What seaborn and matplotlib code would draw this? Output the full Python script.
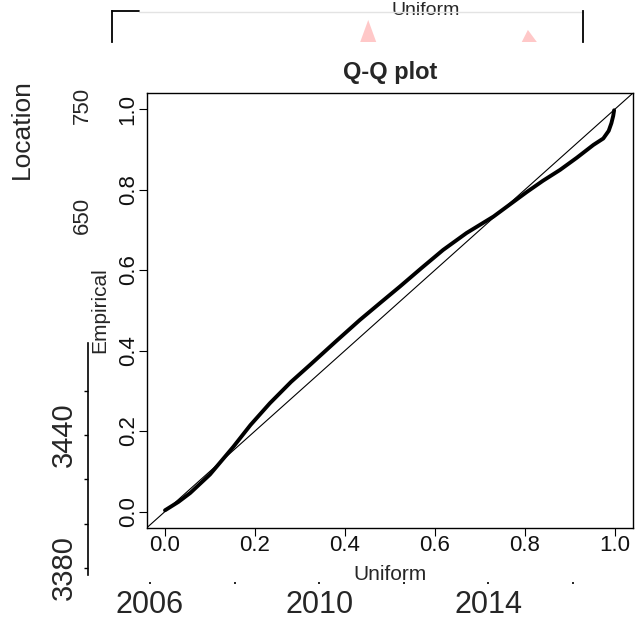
import matplotlib
matplotlib.use("Agg")
import matplotlib.pyplot as plt
import seaborn as sns
import pandas as pd

# ---- data ----
uniform_q = [0.0, 0.03, 0.056, 0.10, 0.152, 0.19, 0.233, 0.28, 0.322, 0.38, 0.433,
             0.48, 0.522, 0.57, 0.618, 0.67, 0.730, 0.77, 0.804, 0.84, 0.878,
             0.915, 0.952, 0.974, 0.986, 0.992, 0.996, 0.998]
empirical_q = [0.003, 0.024, 0.046, 0.092, 0.161, 0.215, 0.269, 0.322, 0.364, 0.423, 0.476,
               0.520, 0.559, 0.605, 0.650, 0.692, 0.733, 0.766, 0.794, 0.822, 0.849,
               0.879, 0.911, 0.927, 0.946, 0.965, 0.983, 0.997]
qq_ticks = [0.0, 0.2, 0.4, 0.6, 0.8, 1.0]
qq_tick_labels = ["0.0", "0.2", "0.4", "0.6", "0.8", "1.0"]

year_major = [2006, 2010, 2014]
year_minor = [2008, 2012, 2016]
count_major = [3380, 3440]
count_minor = [3400, 3420, 3460]
location_ticks = [650, 750]

peak_center = [0.544, 0.883]
peak_height = [0.71, 0.39]
peak_left = [0.527, 0.870]
peak_right = [0.561, 0.902]

sns.set_style("white")
plt.rcParams["font.family"] = ["Liberation Sans", "DejaVu Sans"]

W, H = 635, 623
fig = plt.figure(figsize=(W / 100, H / 100), dpi=100)


def rect(l, t, r, b):
    return [l / W, 1 - b / H, (r - l) / W, (b - t) / H]


# ---- main Q-Q axes ----
ax = fig.add_axes(rect(147, 93, 633, 527.6))
df = pd.DataFrame({"Uniform": uniform_q, "Empirical": empirical_q})
ax.axline((0, 0), slope=1, color="black", lw=0.8)
sns.lineplot(data=df, x="Uniform", y="Empirical", sort=False, estimator=None,
             color="black", lw=2.8, ax=ax, solid_joinstyle="round",
             solid_capstyle="round")
ax.set_xlim(-0.04, 1.04)
ax.set_ylim(-0.04, 1.04)
ax.set_xticks(qq_ticks)
ax.set_xticklabels(qq_tick_labels)
ax.set_yticks(qq_ticks)
ax.set_yticklabels(qq_tick_labels)
for s in ax.spines.values():
    s.set_color("black")
    s.set_linewidth(1.0)
ax.tick_params(bottom=True, left=True, length=5.5, width=0.8, color="black",
               direction="out", labelsize=16, labelcolor="#111111")
ax.tick_params(axis="x", pad=0)
ax.tick_params(axis="y", pad=0.5, labelrotation=90)
for lab in ax.get_yticklabels():
    lab.set_va("center")
ax.set_xlabel("Uniform", fontsize=15)
ax.xaxis.set_label_coords(0.5, (527.6 - 574) / 434.6)
ax.xaxis.label.set_va("center")
ax.set_ylabel("Empirical", fontsize=15)
ax.yaxis.set_label_coords((100 - 147) / 486, 0.5)
ax.yaxis.label.set_va("center")
ax.set_title("Q-Q plot", fontsize=17, fontweight="bold", y=(527.6 - 72) / 434.6,
             pad=0, va="center")

# ---- top fragment ----
axT = fig.add_axes(rect(112, 11, 583, 42))
axT.set_facecolor("none")
axT.set_xlim(0, 1)
axT.set_ylim(0, 1)
for c, h, l, r in zip(peak_center, peak_height, peak_left, peak_right):
    axT.fill([l, c, r], [0, h, 0], color="#ffc8c8", lw=0)
axT.spines["top"].set_visible(False)
axT.spines["bottom"].set_visible(False)
for side in ("left", "right"):
    axT.spines[side].set_color("black")
    axT.spines[side].set_linewidth(1.3)
axT.plot([0, 0.057], [1, 1], color="black", lw=1.3, transform=axT.transAxes, clip_on=False)
axT.plot([0.057, 1], [0.97, 0.97], color="#e3e3e3", lw=1.0, transform=axT.transAxes, clip_on=False)
axT.set_xticks([])
axT.set_yticks([])
axT.xaxis.set_label_position("top")
axT.set_xlabel("Uniform", fontsize=14)
axT.xaxis.set_label_coords(0.665, 0.87)
axT.xaxis.label.set_va("baseline")

# ---- left fragment with Location ----
axLoc = fig.add_axes(rect(93, 50, 94, 230))
axLoc.set_facecolor("none")
axLoc.set_ylim(636.4, 800)
axLoc.set_yticks(location_ticks)
axLoc.set_yticklabels([str(v) for v in location_ticks])
axLoc.set_xticks([])
for s in axLoc.spines.values():
    s.set_visible(False)
axLoc.tick_params(axis="y", left=True, length=0, labelsize=16, labelrotation=90, pad=0)
for lab in axLoc.get_yticklabels():
    lab.set_va("center")
axLoc.set_ylabel("Location", fontsize=19)
axLoc.yaxis.set_label_coords(22 / W, 1 - 129 / H, transform=fig.transFigure)
axLoc.yaxis.label.set_va("center")

# ---- left count axis fragment ----
axL = fig.add_axes(rect(88, 343, 89, 575))
axL.set_facecolor("none")
axL.set_ylim(3376.8, 3481.5)
axL.set_yticks(count_major)
axL.set_yticklabels([str(v) for v in count_major])
axL.set_yticks(count_minor, minor=True)
axL.set_xticks([])
for side in ("top", "right", "bottom"):
    axL.spines[side].set_visible(False)
axL.spines["left"].set_color("black")
axL.spines["left"].set_linewidth(1.2)
axL.tick_params(axis="y", which="both", left=True, length=3, width=1.0, color="black",
                direction="out")
axL.tick_params(axis="y", which="major", labelsize=21, labelrotation=90, pad=4)
for lab in axL.get_yticklabels():
    lab.set_va("center")

# ---- bottom year axis fragment ----
axB = fig.add_axes(rect(100, 581, 620, 582))
axB.set_facecolor("none")
axB.set_xlim(2004.818, 2017.111)
axB.set_xticks(year_major)
axB.set_xticklabels([str(v) for v in year_major])
axB.set_xticks(year_minor, minor=True)
axB.set_yticks([])
for s in axB.spines.values():
    s.set_visible(False)
axB.tick_params(axis="x", which="both", bottom=True, length=1.5, width=1.2, color="black",
                direction="out")
axB.tick_params(axis="x", which="major", labelsize=22, pad=4)

fig.savefig("out.png", dpi=100)
